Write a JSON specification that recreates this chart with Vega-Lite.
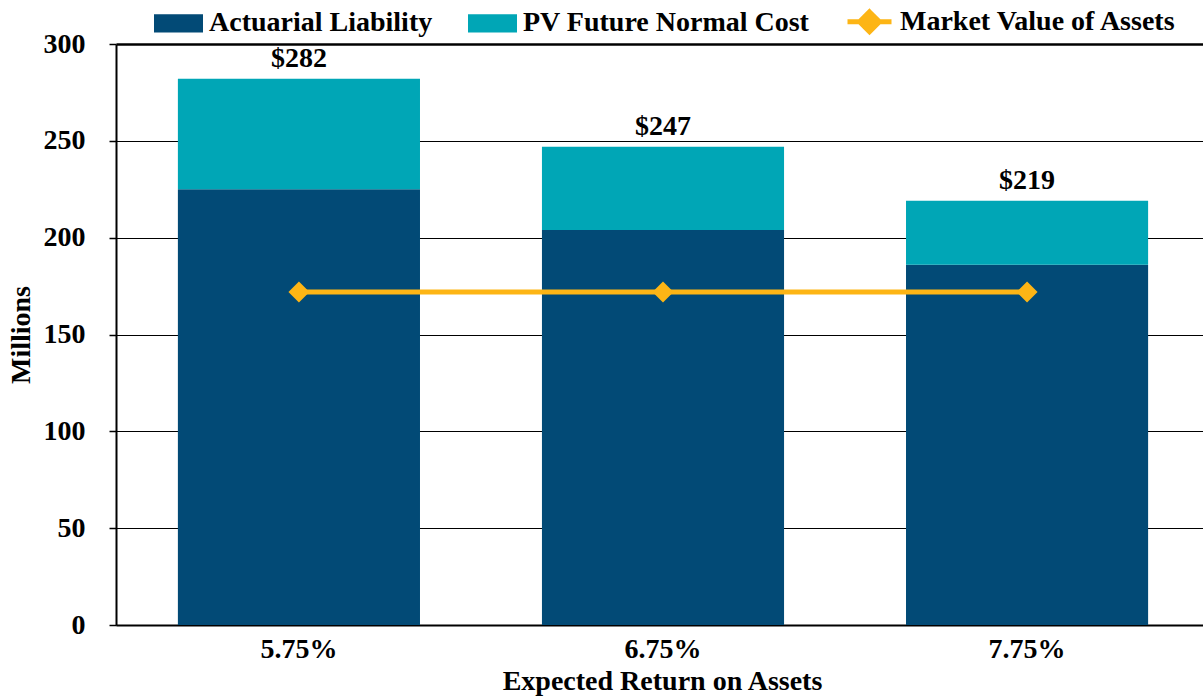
{
  "$schema": "https://vega.github.io/schema/vega-lite/v6.json",
  "width": 1094,
  "height": 581,
  "autosize": "none",
  "padding": {"left": 116, "top": 44, "right": 0, "bottom": 73},
  "background": "white",
  "config": {
    "view": {"stroke": null},
    "font": "Liberation Serif",
    "axis": {"labelFont": "Liberation Serif", "titleFont": "Liberation Serif", "labelFontWeight": "bold", "titleFontWeight": "bold", "labelFontSize": 28, "titleFontSize": 28, "labelColor": "#000", "titleColor": "#000"},
    "legend": {"labelFont": "Liberation Serif", "labelFontWeight": "bold", "labelFontSize": 28, "labelColor": "#000", "labelLimit": 500}
  },
  "datasets": {
    "bars": [
      {"rate": "5.75%", "series": "Actuarial Liability", "ord": 1, "value": 225},
      {"rate": "5.75%", "series": "PV Future Normal Cost", "ord": 2, "value": 57},
      {"rate": "6.75%", "series": "Actuarial Liability", "ord": 1, "value": 204},
      {"rate": "6.75%", "series": "PV Future Normal Cost", "ord": 2, "value": 43},
      {"rate": "7.75%", "series": "Actuarial Liability", "ord": 1, "value": 186},
      {"rate": "7.75%", "series": "PV Future Normal Cost", "ord": 2, "value": 33}
    ],
    "mva": [
      {"rate": "5.75%", "series": "Market Value of Assets", "value": 172},
      {"rate": "6.75%", "series": "Market Value of Assets", "value": 172},
      {"rate": "7.75%", "series": "Market Value of Assets", "value": 172}
    ]
  },
  "encoding": {
    "x": {
      "field": "rate", "type": "nominal",
      "scale": {"paddingInner": 0.335, "paddingOuter": 0.17},
      "axis": {"title": "Expected Return on Assets", "labelAngle": 0, "ticks": false, "labelPadding": 10, "titlePadding": 4, "titleX": 546, "domainColor": "#000", "domainWidth": 2}
    }
  },
  "layer": [
    {
      "data": {"name": "bars"},
      "mark": {"type": "bar"},
      "encoding": {
        "y": {
          "field": "value", "type": "quantitative", "stack": "zero",
          "scale": {"domain": [0, 300], "nice": false},
          "axis": {"title": "Millions", "values": [0, 50, 100, 150, 200, 250, 300], "tickSize": 7, "tickColor": "#000", "tickWidth": 1.5, "labelPadding": 24, "titlePadding": 8, "domainColor": "#000", "domainWidth": 2, "grid": true, "gridColor": "#000", "gridWidth": {"condition": {"test": "datum.value === 300", "value": 2.5}, "value": 1}, "gridOpacity": 1}
        },
        "color": {
          "field": "series", "type": "nominal",
          "scale": {"domain": ["Actuarial Liability", "PV Future Normal Cost", "Market Value of Assets"], "range": ["#024A76", "#00A6B6", "#FDB515"]},
          "legend": {
            "title": null, "orient": "none", "direction": "horizontal", "legendX": 38, "legendY": -47,
            "symbolSize": 1936, "labelOffset": 6, "columnPadding": 27, "padding": 0,
            "symbolType": "square",
            "encode": {
              "symbols": {
                "update": {
                  "shape": {"signal": "datum.label === 'Market Value of Assets' ? 'M-1,0H1M0,-0.45L0.45,0L0,0.45L-0.45,0Z' : 'M-1,-0.3H1V0.3H-1Z'"},
                  "fill": {"signal": "scale('color', datum.value)"},
                  "stroke": {"signal": "datum.label === 'Market Value of Assets' ? '#FDB515' : 'transparent'"},
                  "strokeWidth": {"value": 5},
                  "opacity": {"value": 1},
                  "fillOpacity": {"value": 1}
                }
              }
            }
          }
        },
        "order": {"field": "ord", "type": "quantitative"}
      }
    },
    {
      "data": {"name": "bars"},
      "transform": [{"aggregate": [{"op": "sum", "field": "value", "as": "total"}], "groupby": ["rate"]}],
      "mark": {"type": "text", "font": "Liberation Serif", "fontWeight": "bold", "fontSize": 28, "baseline": "alphabetic", "dy": -12, "color": "#000"},
      "encoding": {
        "y": {"field": "total", "type": "quantitative"},
        "text": {"field": "total", "type": "quantitative", "format": "$.0f"}
      }
    },
    {
      "data": {"name": "mva"},
      "mark": {"type": "line", "strokeWidth": 5},
      "encoding": {
        "y": {"field": "value", "type": "quantitative"},
        "color": {"field": "series", "type": "nominal"}
      }
    },
    {
      "data": {"name": "mva"},
      "mark": {"type": "point", "shape": "diamond", "size": 441, "filled": true, "opacity": 1},
      "encoding": {
        "y": {"field": "value", "type": "quantitative"},
        "color": {"field": "series", "type": "nominal"}
      }
    }
  ]
}
